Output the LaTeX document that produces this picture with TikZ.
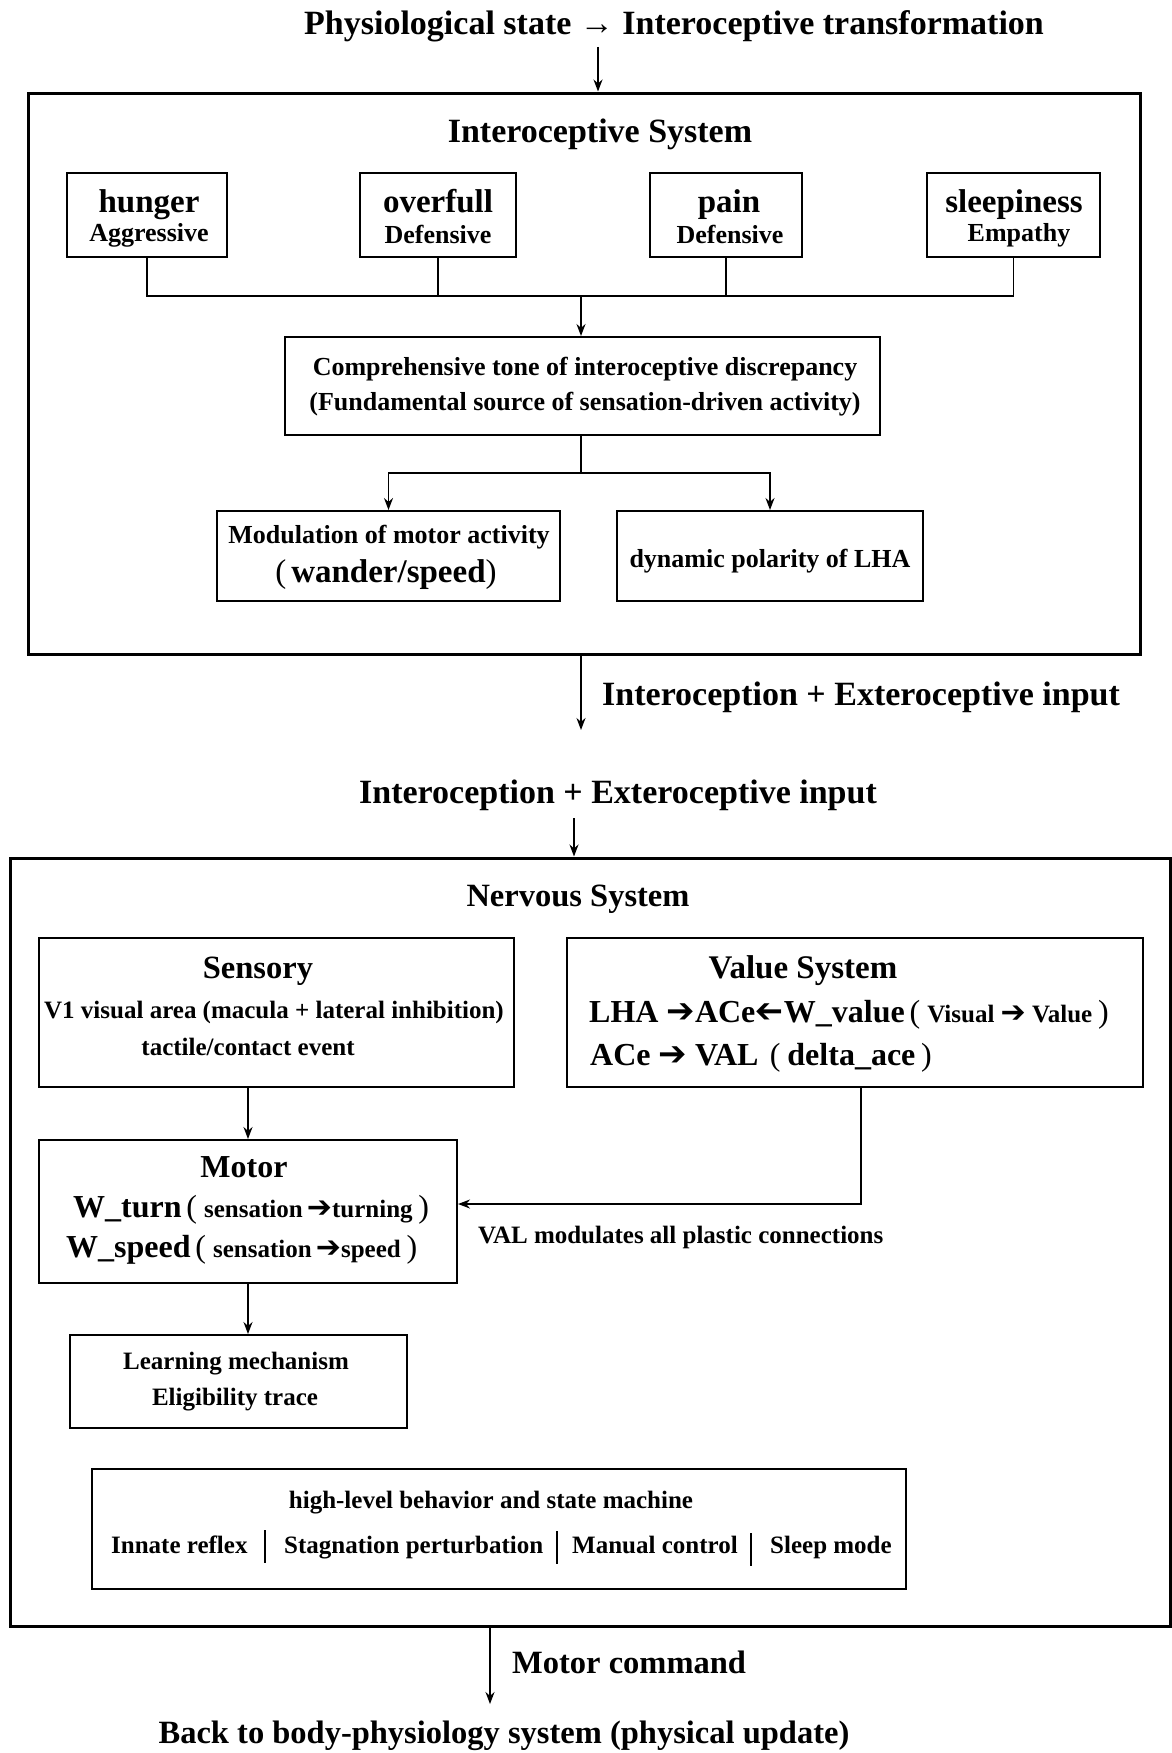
\documentclass[tikz,border=0pt]{standalone}
\usepackage{fontspec}
\setmainfont{Liberation Serif}
\newfontfamily\arrowfont{DejaVu Sans}
\usetikzlibrary{arrows.meta}

\newcommand{\fsz}[1]{\fontsize{#1}{#1}\selectfont}
\newcommand{\rarr}[1][34]{{\arrowfont\bfseries\fsz{#1}➔}}
\newcommand{\larr}[1][34]{\reflectbox{\arrowfont\bfseries\fsz{#1}➔}}
\newcommand{\lp}{\kern0.15em{\mdseries(}\kern0.22em}
\newcommand{\rp}{\kern0.18em{\mdseries)}\kern0.1em}

\tikzset{
  frame/.style={draw, line width=3pt, inner sep=0pt},
  box/.style={draw, line width=2pt, inner sep=0pt},
  lbl/.style={anchor=base, inner sep=0pt, font=\bfseries\fsz{#1}},
  lblw/.style={anchor=base west, inner sep=0pt, font=\bfseries\fsz{#1}},
  conn/.style={line width=1.5pt},
  arr/.style={conn, -{Stealth[length=12pt, width=9pt]}},
}

\begin{document}
\begin{tikzpicture}[x=1pt, y=-1pt]
    \useasboundingbox (0,0) rectangle (1172,1753);

    % interoceptive part
    \node[lbl=34] (physio) at (674,35) {Physiological state → Interoceptive transformation};
    \node[frame, minimum width=1112, minimum height=561] (intero) at (584,373.5) {};
    \node[lbl=34] (interotitle) at (600,142) {Interoceptive System};

    \node[box, minimum width=160, minimum height=84] (hunger) at (147,215) {};
    \node[box, minimum width=156, minimum height=84] (overfull) at (438,215) {};
    \node[box, minimum width=152, minimum height=84] (pain) at (726,215) {};
    \node[box, minimum width=173, minimum height=84] (sleepy) at (1013.5,215) {};
    \node[lbl=33] (hungert) at (149,212) {hunger};
    \node[lbl=26] (hungers) at (149,241) {Aggressive};
    \node[lbl=33] (overfullt) at (438,212) {overfull};
    \node[lbl=26] (overfulls) at (438,243) {Defensive};
    \node[lbl=33] (paint) at (729,212) {pain};
    \node[lbl=26] (pains) at (730,243) {Defensive};
    \node[lbl=33] (sleepyt) at (1014,212) {sleepiness};
    \node[lbl=26] (sleepys) at (1019,241) {Empathy};

    \node[box, minimum width=595, minimum height=98] (tone) at (582.5,386) {};
    \node[lbl=26] (tone1) at (585,375) {Comprehensive tone of interoceptive discrepancy};
    \node[lbl=26] (tone2) at (585,410) {(Fundamental source of sensation-driven activity)};

    \node[box, minimum width=343, minimum height=90] (modul) at (388.5,556) {};
    \node[lbl=26] (modul1) at (389,543) {Modulation of motor activity};
    \node[lbl=33] (modul2) at (386,582) {{\mdseries(}\kern0.15em wander/speed{\mdseries)}};
    \node[box, minimum width=306, minimum height=90] (polar) at (770,556) {};
    \node[lbl=26] (polart) at (770,567) {dynamic polarity of LHA};

    \coordinate (physioin) at (598,47);
    \coordinate (bus) at (581,296);
    \coordinate (split) at (581,473);
    \coordinate (interout) at (581,730);

    \draw[arr] (physioin) -- (physioin |- intero.north);
    \draw[conn] (hunger.south) |- (bus) -| (sleepy.south);
    \draw[conn] (overfull.south) -- (overfull.south |- bus);
    \draw[conn] (pain.south) -- (pain.south |- bus);
    \draw[arr] (bus) -- (bus |- tone.north);
    \draw[conn] (tone.south -| split) -- (split);
    \draw[arr] (split) -| (modul.north);
    \draw[arr] (split) -| (polar.north);
    \draw[arr] (intero.south -| interout) -- (interout);
    \node[lblw=34] (interlbl) at (602,705) {Interoception + Exteroceptive input};

    % nervous part
    \node[lbl=34] (nervin) at (618,803) {Interoception + Exteroceptive input};
    \node[frame, minimum width=1160, minimum height=768] (nervous) at (590,1242) {};
    \node[lbl=32.5] (nervtitle) at (578,906) {Nervous System};
    \coordinate (nervtop) at (574,818);
    \draw[arr] (nervtop) -- (nervtop |- nervous.north);

    \node[box, minimum width=475, minimum height=149] (sensory) at (276.5,1012.5) {};
    \node[lbl=32.5] (sensoryt) at (258,978) {Sensory};
    \node[lbl=25] (sensory1) at (274,1018) {V1 visual area (macula + lateral inhibition)};
    \node[lbl=25] (sensory2) at (248,1055) {tactile/contact event};

    \node[box, minimum width=576, minimum height=149] (value) at (855,1012.5) {};
    \node[lbl=33] (valuet) at (803,978) {Value System};
    \node[lblw=32] (value1) at (589,1022) {LHA \rarr{}ACe\larr{}W\_value\lp{\fsz{25}Visual \rarr[30] Value}\rp};
    \node[lblw=32] (value2) at (590,1065) {ACe \rarr{} VAL\kern0.2em\lp delta\_ace\rp};

    \node[box, minimum width=418, minimum height=143] (motor) at (248,1211.5) {};
    \node[lbl=32] (motort) at (244,1177) {Motor};
    \node[lblw=32] (motor1) at (73,1217) {W\_turn\lp{\fsz{25}sensation\,\rarr[30]turning}\rp};
    \node[lblw=32] (motor2) at (66,1257) {W\_speed\lp{\fsz{25}sensation\,\rarr[30]speed}\rp};
    \node[lblw=25] (vallbl) at (478,1243) {VAL modulates all plastic connections};

    \node[box, minimum width=337, minimum height=93] (learn) at (238.5,1381.5) {};
    \node[lbl=25] (learn1) at (236,1369) {Learning mechanism};
    \node[lbl=25] (learn2) at (235,1405) {Eligibility trace};

    \draw[arr] (sensory.south -| motor.north) -- (motor.north);
    \draw[arr] ([xshift=6pt]value.south) |- ([yshift=7.5pt]motor.east);
    \draw[arr] (motor.south) -- (motor.south |- learn.north);

    \node[box, minimum width=814, minimum height=120] (state) at (499,1529) {};
    \node[lbl=25] (statet) at (491,1508) {high-level behavior and state machine};
    \node[lblw=25] (reflex) at (111,1553) {Innate reflex};
    \node[lblw=25] (stagn) at (284,1553) {Stagnation perturbation};
    \node[lblw=25] (manual) at (572,1553) {Manual control};
    \node[lblw=25] (sleepmode) at (770,1553) {Sleep mode};
    \draw[line width=2pt] (265,1530) -- (265,1563);
    \draw[line width=2pt] (557,1531) -- (557,1564);
    \draw[line width=2pt] (751,1533) -- (751,1566);

    \coordinate (backin) at (490,1704);
    \draw[arr] (nervous.south -| backin) -- (backin);
    \node[lblw=32.5] (cmdlbl) at (512,1673) {Motor command};
    \node[lbl=32.5] (back) at (504,1743) {Back to body-physiology system (physical update)};
\end{tikzpicture}
\end{document}
